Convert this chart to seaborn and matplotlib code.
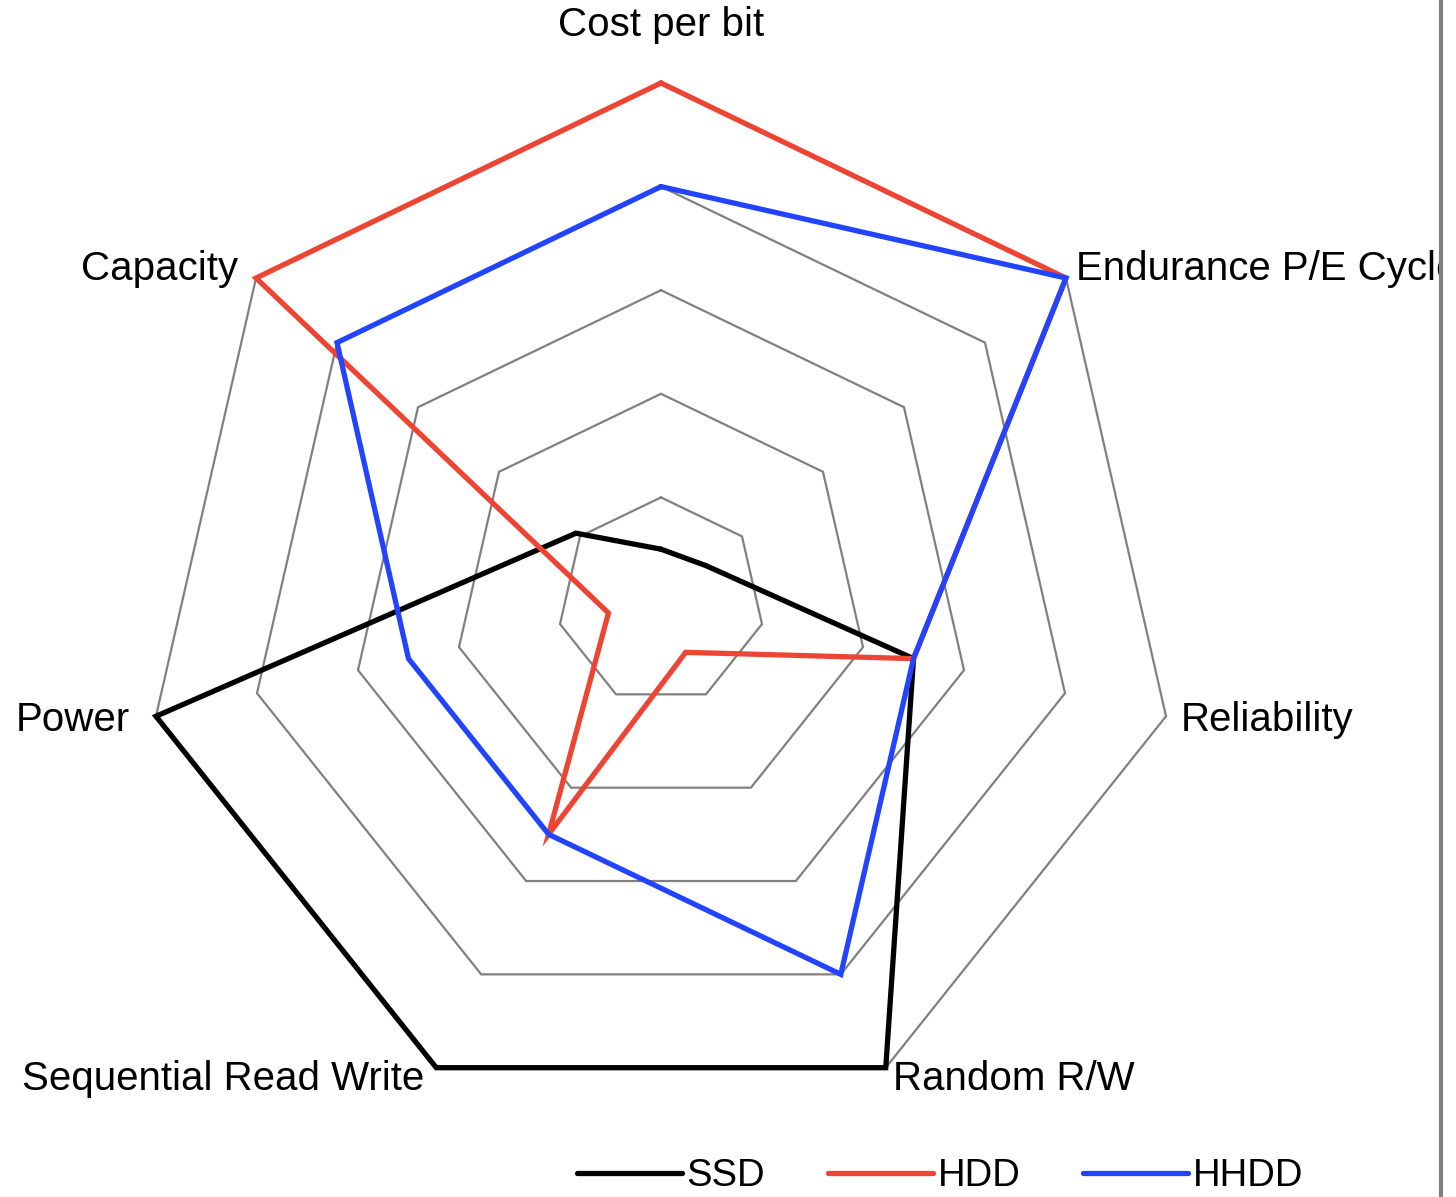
import numpy as np
import pandas as pd
import matplotlib
matplotlib.use("Agg")
import matplotlib.pyplot as plt
from matplotlib.lines import Line2D
from matplotlib.transforms import Bbox, TransformedBbox
import seaborn as sns

# dados do grafico radar
categorias = ["Cost per bit", "Endurance P/E Cycle", "Reliability", "Random R/W",
              "Sequential Read Write", "Power", "Capacity"]
ssd = [0.5, 0.55, 2.5, 5, 5, 5, 1.05]
hdd = [5, 5, 2.5, 0.55, 2.5, 0.52, 5]
hhdd = [4, 5, 2.5, 4, 2.5, 2.5, 4]
series = ["SSD", "HDD", "HHDD"]
aneis = [1, 2, 3, 4, 5]

cores = {"SSD": "#000000", "HDD": "#EE4433", "HHDD": "#2244FF"}

sns.set_style("white")
plt.rcParams['font.family'] = ['Liberation Sans', 'DejaVu Sans']
plt.rcParams['text.color'] = 'black'

n = len(categorias)
angulos = np.arange(n) * 2 * np.pi / n
ang_fech = np.append(angulos, 2 * np.pi)

linhas = []
for nome, valores in zip(series, [ssd, hdd, hhdd]):
    vals = list(valores) + [valores[0]]
    for i, (a, v) in enumerate(zip(ang_fech, vals)):
        linhas.append({"serie": nome, "ordem": i, "theta": a, "r": v})
df = pd.DataFrame(linhas)

fig = plt.figure(figsize=(14.56, 11.97), dpi=100)
cx, cy, R = 661, 596, 518
W, H = 1456, 1197
ax = fig.add_axes([(cx - R) / W, (cy - R) / H, 2 * R / W, 2 * R / H], projection='polar')
ax.set_theta_zero_location('N')
ax.set_theta_direction(-1)
ax.set_ylim(0, 5)
ax.grid(False)
ax.set_xticks([])
ax.set_yticks([])
ax.spines['polar'].set_visible(False)
ax.patch.set_alpha(0)

# aneis heptagonais
for r in aneis:
    ax.plot(ang_fech, [r] * len(ang_fech), color='#808080', lw=1.6, clip_on=False, zorder=1)

sns.lineplot(data=df, x="theta", y="r", hue="serie", hue_order=series, palette=cores,
             sort=False, estimator=None, units="serie", linewidth=3.8, ax=ax)
for l in ax.get_lines():
    l.set_clip_on(False)
    l.set_solid_joinstyle('miter')
ax.set_xlabel('')
ax.set_ylabel('')

# area visivel ate a borda cinza da direita
caixa = TransformedBbox(Bbox([[0, 0], [1439 / W, 1]]), fig.transFigure)

# rotulos dos eixos
desloc = [(0, 58, 'center'), (10, 9, 'left'), (15, -4, 'left'), (7, -11, 'left'),
          (-12, -11, 'right'), (-26, -4, 'right'), (-18, 9, 'right')]
for a, cat, (dx, dy, ha) in zip(angulos, categorias, desloc):
    t = ax.annotate(cat, xy=(a, 5), xytext=(dx, dy), textcoords='offset pixels',
                    ha=ha, va='center', fontsize=29, color='black', annotation_clip=False)
    t.set_clip_on(True)
    t.set_clip_box(caixa)

handles, labels = ax.get_legend_handles_labels()
leg = ax.legend(handles, labels, loc='center', bbox_to_anchor=(940 / W, 21 / H),
                bbox_transform=fig.transFigure, ncol=3, frameon=False, fontsize=27.5,
                handlelength=2.75, handletextpad=0.12, columnspacing=1.65, borderpad=0)
for t in leg.get_texts():
    t.set_color('black')

fig.add_artist(Line2D([1441 / W, 1441 / W], [0, 1], color='#808080', lw=3))

plt.savefig('out.png', dpi=100)
